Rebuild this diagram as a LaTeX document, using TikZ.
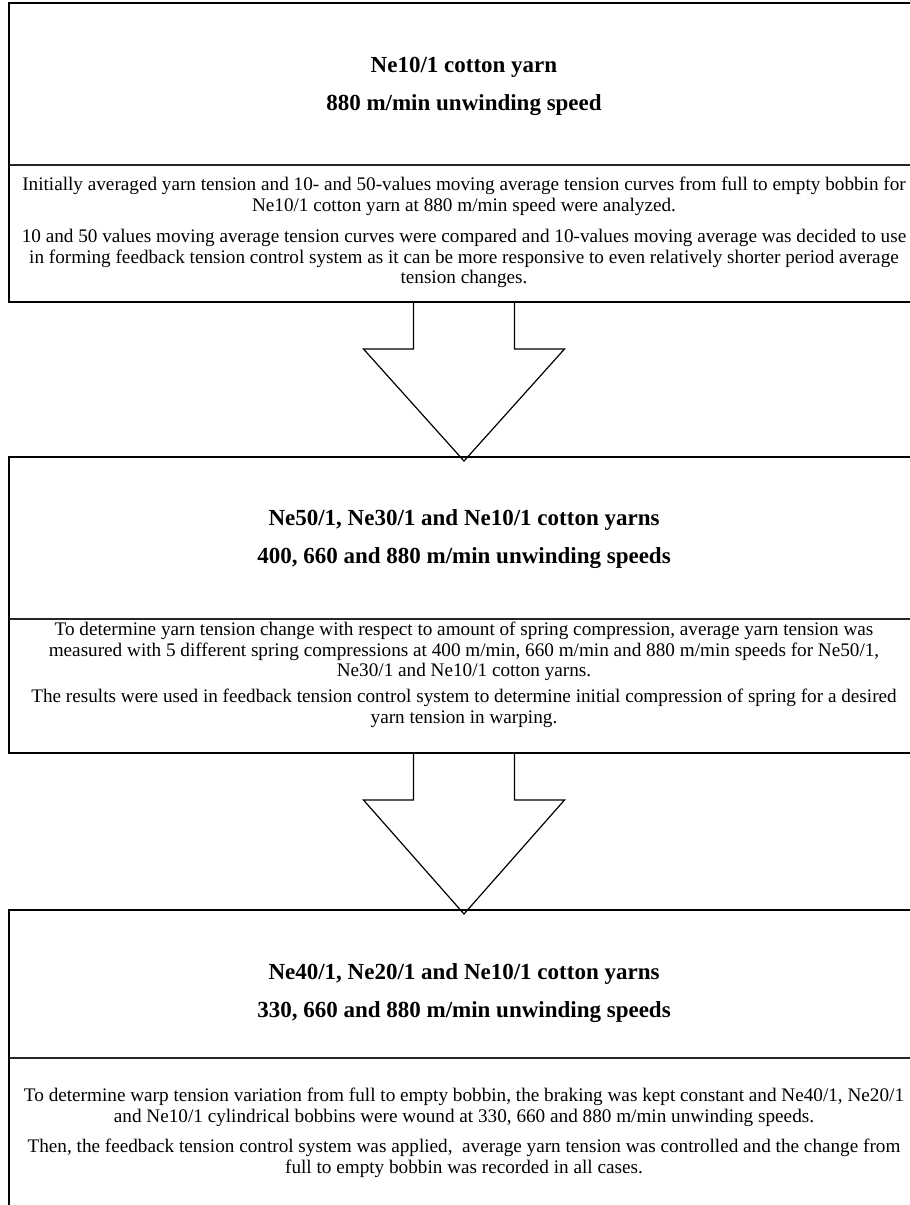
\documentclass[tikz,border=0pt]{standalone}
\usepackage{fontspec}
\setmainfont{Liberation Serif}
\usetikzlibrary{calc}
\tikzset{
  frame/.style={draw=black, line width=2pt, minimum width=910pt, inner sep=0pt, rectangle},
  divider/.style={draw=black!85, line width=1.8pt},
  blockarrow/.style={draw=black, line width=1.2pt, line join=miter},
  headtext/.style={font=\fontsize{23}{38}\selectfont\bfseries, align=center, inner sep=0pt},
  bodytext/.style={font=\fontsize{19.2}{20.5}\selectfont, align=center, inner sep=0pt, anchor=north},
}
\begin{document}
\begin{tikzpicture}[x=1pt,y=-1pt]
\useasboundingbox (0,0) rectangle (910,1205);
\clip (0,0) rectangle (910,1205);
\fill[white] (0,0) rectangle (910,1205);

% boxes
\node[frame, minimum height=299pt] (box1) at (464,152.5) {};
\node[frame, minimum height=296pt] (box2) at (464,605) {};
\node[frame, minimum height=310pt] (box3) at (464,1065) {};

% dividers
\draw[divider] (9,165) -- (919,165);
\draw[divider] (9,619) -- (919,619);
\draw[divider] (9,1058) -- (919,1058);

% headings
\node[headtext] (h1) at (464,86.5) {Ne10/1 cotton yarn\\880 m/min unwinding speed};
\node[headtext] (h2) at (464,539.5) {Ne50/1, Ne30/1 and Ne10/1 cotton yarns\\400, 660 and 880 m/min unwinding speeds};
\node[headtext] (h3) at (464,993) {Ne40/1, Ne20/1 and Ne10/1 cotton yarns\\330, 660 and 880 m/min unwinding speeds};

% body texts
\node[bodytext] (t1a) at (464,177) {Initially averaged yarn tension and 10- and 50-values moving average tension curves from full to empty bobbin for\\Ne10/1 cotton yarn at 880 m/min speed were analyzed.};
\node[bodytext] (t1b) at (464,229) {10 and 50 values moving average tension curves were compared and 10-values moving average was decided to use\\in forming feedback tension control system as it can be more responsive to even relatively shorter period average\\tension changes.};
\node[bodytext] (t2a) at (464,622) {To determine yarn tension change with respect to amount of spring compression, average yarn tension was\\measured with 5 different spring compressions at 400 m/min, 660 m/min and 880 m/min speeds for Ne50/1,\\Ne30/1 and Ne10/1 cotton yarns.};
\node[bodytext] (t2b) at (464,689) {The results were used in feedback tension control system to determine initial compression of spring for a desired\\yarn tension in warping.};
\node[bodytext] (t3a) at (464,1088) {To determine warp tension variation from full to empty bobbin, the braking was kept constant and Ne40/1, Ne20/1\\and Ne10/1 cylindrical bobbins were wound at 330, 660 and 880 m/min unwinding speeds.};
\node[bodytext] (t3b) at (464,1139) {Then, the feedback tension control system was applied,\ \ average yarn tension was controlled and the change from\\full to empty bobbin was recorded in all cases.};

% block arrows
\draw[blockarrow] ($(box1.south)+(-50.5,0)$) -- ++(0,46) -- ++(-50,0)
  -- ($(box2.north)+(0,5)$)
  -- ($(box1.south)+(100.5,46)$) -- ++(-50,0) -- ($(box1.south)+(50.5,0)$);
\draw[blockarrow] ($(box2.south)+(-50.5,0)$) -- ++(0,46) -- ++(-50,0)
  -- ($(box3.north)+(0,5)$)
  -- ($(box2.south)+(100.5,46)$) -- ++(-50,0) -- ($(box2.south)+(50.5,0)$);
\end{tikzpicture}
\end{document}
